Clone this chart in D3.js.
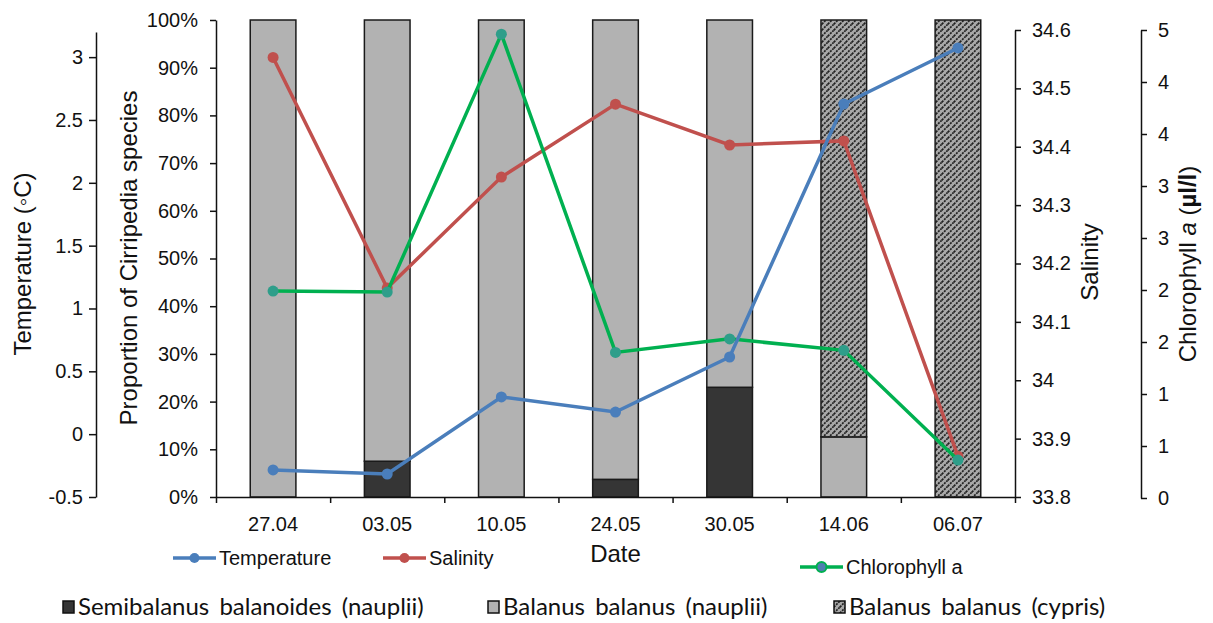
<!DOCTYPE html>
<html>
<head>
<meta charset="utf-8">
<script src="https://cdn.jsdelivr.net/npm/d3@7"></script>
<style>
  body { margin: 0; background: #fff; }
  text { font-family: Arial, "Liberation Sans", sans-serif; fill: #111; }
  .axis path, .axis line { stroke: #111; stroke-width: 1.5; }
  .axis text { font-family: Arial, "Liberation Sans", sans-serif; font-size: 20px; fill: #111; }
  .title { font-size: 24px; }
  .legend2 text { font-family: Lato, "Open Sans", sans-serif; font-size: 24px; word-spacing: 4px; }
</style>
</head>
<body>
<div id="chart"></div>
<script>
const dates = ["27.04", "03.05", "10.05", "24.05", "30.05", "14.06", "06.07"];
const semibalanus = [0, 7.5, 0, 3.7, 23, 0, 0];
const balanusNauplii = [100, 92.5, 100, 96.3, 77, 12.6, 0];
const balanusCypris = [0, 0, 0, 0, 0, 87.4, 100];
const temperature = [-0.285, -0.317, 0.296, 0.176, 0.614, 2.627, 3.073];
const salinity = [34.553, 34.158, 34.348, 34.473, 34.403, 34.41, 33.87];
const chlorophyll = [1.99, 1.98, 4.46, 1.4, 1.53, 1.42, 0.365];

const width = 1213,
  height = 623,
  left = 216,
  right = 1015,
  bottom = 497;

const svg = d3
  .select("#chart")
  .append("svg")
  .attr("width", width)
  .attr("height", height)
  .attr("viewBox", [0, 0, width, height]);

// hatch for cypris
const defs = svg.append("defs");
const pat = defs
  .append("pattern")
  .attr("id", "hatch")
  .attr("patternUnits", "userSpaceOnUse")
  .attr("width", 6)
  .attr("height", 6);
pat.append("rect").attr("width", 6).attr("height", 6).attr("fill", "#a9a9a9");
pat
  .append("path")
  .attr("d", "M-1,1 l2,-2 M0,6 l6,-6 M5,7 l2,-2")
  .attr("stroke", "#222")
  .attr("stroke-width", 1.7)
  .attr("stroke-dasharray", "2,1");

let x = d3
  .scaleBand()
  .domain(dates)
  .range([left, right])
  .paddingInner(0.6)
  .paddingOuter(0.3);

let yPct = d3.scaleLinear().domain([0, 100]).range([bottom, 20]);
let yTemp = d3.scaleLinear().domain([-0.5, 3.2]).range([bottom, 32]);
let ySal = d3.scaleLinear().domain([33.8, 34.6]).range([bottom, 30]);
let yChl = d3.scaleLinear().domain([0, 4.5]).range([498, 30]);

// stacked bars
const rows = dates.map((d, i) => ({
  date: d,
  semi: semibalanus[i],
  naup: balanusNauplii[i],
  cyp: balanusCypris[i],
}));
const keys = ["semi", "naup", "cyp"];
const fills = { semi: "#353535", naup: "#b2b2b2", cyp: "url(#hatch)" };
const stacked = d3.stack().keys(keys)(rows);

svg
  .append("g")
  .selectAll("g")
  .data(stacked)
  .join("g")
  .attr("fill", (s) => fills[s.key])
  .selectAll("rect")
  .data((s) => s.filter((d) => d[1] - d[0] > 0))
  .join("rect")
  .attr("x", (d) => x(d.data.date))
  .attr("width", x.bandwidth())
  .attr("y", (d) => yPct(d[1]))
  .attr("height", (d) => yPct(d[0]) - yPct(d[1]))
  .attr("stroke", "#1a1a1a")
  .attr("stroke-width", 1.5);

// axes
const fmtNum = (d) => String(+d.toFixed(1));

svg
  .append("g")
  .attr("class", "axis")
  .attr("transform", `translate(96,0)`)
  .call(
    d3
      .axisLeft(yTemp)
      .tickValues(d3.range(-0.5, 3.01, 0.5))
      .tickFormat(fmtNum)
      .tickSize(7)
      .tickSizeOuter(0)
      .tickPadding(6)
  );

svg
  .append("g")
  .attr("class", "axis")
  .attr("transform", `translate(${left},0)`)
  .call(
    d3
      .axisLeft(yPct)
      .tickValues(d3.range(0, 101, 10))
      .tickFormat((d) => d + "%")
      .tickSize(6)
      .tickSizeOuter(0)
      .tickPadding(12)
  );

svg
  .append("g")
  .attr("class", "axis")
  .attr("transform", `translate(${right},0)`)
  .call(
    d3
      .axisRight(ySal)
      .tickValues(d3.range(33.8, 34.61, 0.1))
      .tickFormat(fmtNum)
      .tickSize(6)
      .tickSizeOuter(0)
      .tickPadding(11)
  );

svg
  .append("g")
  .attr("class", "axis")
  .attr("transform", `translate(1141,0)`)
  .call(
    d3
      .axisRight(yChl)
      .tickValues(d3.range(0, 4.51, 0.5))
      .tickFormat((d) => Math.round(d + 1e-9))
      .tickSize(6)
      .tickSizeOuter(0)
      .tickPadding(11)
  );

// x axis: ticks between categories, labels at centres
let xEdge = d3.scaleLinear().domain([0, dates.length]).range([left, right]);
svg
  .append("g")
  .attr("class", "axis")
  .attr("transform", `translate(0,${bottom})`)
  .call(
    d3
      .axisBottom(xEdge)
      .tickValues(d3.range(dates.length + 1))
      .tickFormat("")
      .tickSize(6)
      .tickSizeOuter(0)
  );

svg
  .append("g")
  .selectAll("text")
  .data(dates)
  .join("text")
  .attr("x", (d) => x(d) + x.bandwidth() / 2)
  .attr("y", 531)
  .attr("text-anchor", "middle")
  .style("font-size", "20px")
  .text((d) => d);

// lines
const series = [
  { name: "Salinity", values: salinity, y: ySal, color: "#c0504d", marker: "#c0504d" },
  { name: "Chlorophyll a", values: chlorophyll, y: yChl, color: "#00b050", marker: "#2e9e8a" },
  { name: "Temperature", values: temperature, y: yTemp, color: "#4a7ebb", marker: "#4a7ebb" },
];

for (let s of series) {
  let pts = s.values.map((v, i) => [x(dates[i]) + x.bandwidth() / 2, s.y(v)]);
  svg
    .append("path")
    .datum(pts)
    .attr("d", d3.line())
    .attr("fill", "none")
    .attr("stroke", s.color)
    .attr("stroke-width", 3.5);
  svg
    .append("g")
    .selectAll("circle")
    .data(pts)
    .join("circle")
    .attr("cx", (d) => d[0])
    .attr("cy", (d) => d[1])
    .attr("r", 5.5)
    .attr("fill", s.marker);
}

// axis titles
function vtitle(xc, yc) {
  return svg
    .append("text")
    .attr("class", "title")
    .attr("text-anchor", "middle")
    .attr("transform", `translate(${xc},${yc}) rotate(-90)`)
    .attr("dy", "0.35em");
}
vtitle(23, 264).text("Temperature (\u25E6C)");
vtitle(129, 258).text("Proportion of Cirripedia species");
vtitle(1090, 262).text("Salinity");
let chlTitle = vtitle(1188, 264);
chlTitle.append("tspan").text("Chlorophyll ");
chlTitle.append("tspan").style("font-style", "italic").text("a");
chlTitle.append("tspan").text(" (");
chlTitle.append("tspan").style("font-weight", "bold").text("\u00B5l/l");
chlTitle.append("tspan").text(")");

svg
  .append("text")
  .attr("class", "title")
  .attr("x", (left + right) / 2)
  .attr("y", 562)
  .attr("text-anchor", "middle")
  .text("Date");

// line legends
const lineLegend = [
  { label: "Temperature", color: "#4a7ebb", marker: "#4a7ebb", x: 173, y: 558 },
  { label: "Salinity", color: "#c0504d", marker: "#c0504d", x: 383, y: 558 },
  { label: "Chlorophyll a", color: "#00b050", marker: "#4f7fb0", x: 800, y: 567 },
];
for (let l of lineLegend) {
  let g = svg.append("g").attr("transform", `translate(${l.x},${l.y})`);
  g.append("line").attr("x2", 43).attr("stroke", l.color).attr("stroke-width", 3.5);
  g.append("circle")
    .attr("cx", 21.5)
    .attr("r", 5)
    .attr("fill", l.marker)
    .attr("stroke", l.color)
    .attr("stroke-width", l.marker === l.color ? 0 : 2);
  g.append("text")
    .attr("x", 46)
    .attr("dy", "0.35em")
    .style("font-size", "20px")
    .text(l.label);
}

// bar legends
const barLegend = [
  { label: "Semibalanus  balanoides  (nauplii)", fill: fills.semi, x: 63 },
  { label: "Balanus  balanus  (nauplii)", fill: fills.naup, x: 488 },
  { label: "Balanus  balanus  (cypris)", fill: fills.cyp, x: 834 },
];
let lg = svg.append("g").attr("class", "legend2");
for (let b of barLegend) {
  let g = lg.append("g").attr("transform", `translate(${b.x},601)`);
  g.append("rect")
    .attr("width", 11)
    .attr("height", 12)
    .attr("fill", b.fill)
    .attr("stroke", "#111")
    .attr("stroke-width", 1.5);
  g.append("text")
    .attr("x", 15)
    .attr("y", 14)
    .text(b.label);
}
</script>
</body>
</html>
